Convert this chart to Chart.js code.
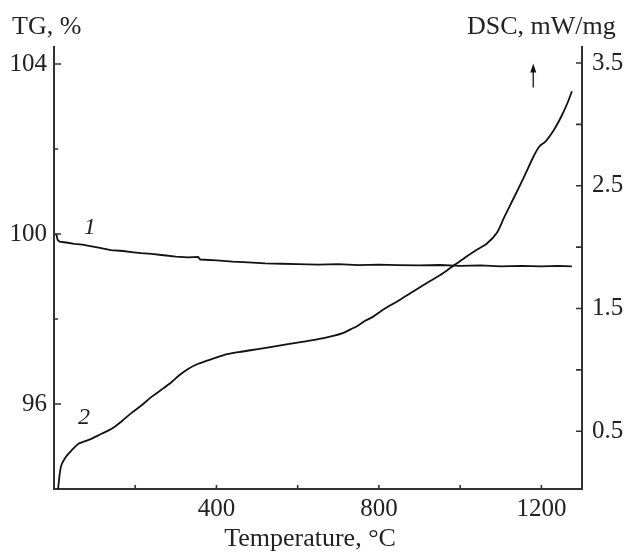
<!DOCTYPE html>
<html lang="en">
<head>
  <meta charset="UTF-8">
  <title>TG / DSC</title>
  <script src="https://cdn.jsdelivr.net/npm/chart.js"></script>
  <style>
    body {
      margin: 0;
      background: #fff;
    }
    canvas {
      display: block;
    }
  </style>
</head>
<body>
  <canvas id="tgChart" width="626" height="553"></canvas>

  <script>
    // curve 1: TG (left axis)
    const tgTemp = [3, 6, 9, 14, 30, 50, 70, 86, 110, 140, 170, 196, 215, 240, 270, 300, 330, 355, 360, 400, 440, 478, 520, 560, 600, 650, 700, 750, 800, 846, 900, 950, 1000, 1050, 1100, 1150, 1200, 1240, 1275];
    const tgValue = [100.0, 99.98, 99.86, 99.82, 99.80, 99.77, 99.75, 99.72, 99.68, 99.62, 99.60, 99.57, 99.55, 99.53, 99.50, 99.47, 99.45, 99.46, 99.40, 99.38, 99.35, 99.33, 99.31, 99.30, 99.29, 99.28, 99.29, 99.27, 99.28, 99.27, 99.26, 99.27, 99.25, 99.26, 99.24, 99.25, 99.24, 99.25, 99.24];

    // curve 2: DSC (right axis)
    const dscTemp = [10, 17, 29, 45, 61, 77, 93, 117, 142, 166, 191, 215, 240, 265, 289, 310, 331, 355, 390, 429, 465, 502, 540, 576, 615, 650, 690, 711, 730, 748, 766, 784, 815, 846, 880, 919, 950, 980, 1010, 1042, 1066, 1091, 1108, 1132, 1157, 1181, 1195, 1210, 1230, 1250, 1265, 1275];
    const dscValue = [0.03, 0.21, 0.29, 0.35, 0.40, 0.42, 0.44, 0.48, 0.52, 0.58, 0.65, 0.71, 0.78, 0.84, 0.90, 0.96, 1.01, 1.05, 1.09, 1.13, 1.15, 1.17, 1.19, 1.21, 1.23, 1.25, 1.28, 1.30, 1.33, 1.36, 1.40, 1.43, 1.50, 1.56, 1.63, 1.71, 1.77, 1.84, 1.91, 1.98, 2.03, 2.12, 2.24, 2.40, 2.57, 2.74, 2.82, 2.86, 2.95, 3.07, 3.18, 3.27];

    // ticks
    const xTicks = [200, 400, 600, 800, 1000, 1200];
    const xLabels = [400, 800, 1200];
    const tgTicks = [96, 98, 100, 102, 104];
    const tgLabels = [96, 100, 104];
    const dscTicks = [0.5, 1.0, 1.5, 2.0, 2.5, 3.0, 3.5];
    const dscLabels = [0.5, 1.5, 2.5, 3.5];

    const axisColor = '#333';
    const textColor = '#222';
    const serif = '"Liberation Serif", "DejaVu Serif", serif';

    const toPoints = (xs, ys) => xs.map((x, i) => ({ x: x, y: ys[i] }));

    // inward tick marks, curve numbers, arrow, axis titles
    const decorations = {
      id: 'decorations',
      afterDraw(chart) {
        const c = chart.ctx;
        const a = chart.chartArea;
        const x = chart.scales.x;
        const yL = chart.scales.yTG;
        const yR = chart.scales.yDSC;

        c.save();
        c.strokeStyle = axisColor;
        c.lineWidth = 1.6;
        c.beginPath();
        xTicks.forEach(v => {
          const px = x.getPixelForValue(v);
          c.moveTo(px, a.bottom);
          c.lineTo(px, a.bottom - 4);
        });
        tgTicks.forEach(v => {
          const py = yL.getPixelForValue(v);
          c.moveTo(a.left, py);
          c.lineTo(a.left + (tgLabels.includes(v) ? 7 : 4), py);
        });
        dscTicks.forEach(v => {
          const py = yR.getPixelForValue(v);
          c.moveTo(a.right, py);
          c.lineTo(a.right - 6, py);
        });
        c.stroke();

        // arrow next to DSC axis
        const ax = x.getPixelForValue(1180);
        const aTop = yR.getPixelForValue(3.48);
        const aBot = yR.getPixelForValue(3.3);
        c.lineWidth = 1.5;
        c.beginPath();
        c.moveTo(ax, aBot);
        c.lineTo(ax, aTop + 4);
        c.stroke();
        c.fillStyle = '#111';
        c.beginPath();
        c.moveTo(ax, aTop - 2);
        c.lineTo(ax - 3, aTop + 7);
        c.lineTo(ax + 3, aTop + 7);
        c.closePath();
        c.fill();

        // curve numbers
        c.fillStyle = textColor;
        c.font = 'italic 24px ' + serif;
        c.textAlign = 'center';
        c.textBaseline = 'middle';
        c.fillText('1', x.getPixelForValue(88), yL.getPixelForValue(100.16));
        c.fillText('2', x.getPixelForValue(74), yR.getPixelForValue(0.61));

        // axis titles
        c.font = '26px ' + serif;
        c.fillText('Temperature, °C', 310, 539);
        c.textAlign = 'left';
        c.fillText('TG, %', 12, 27);
        c.fillText('DSC, mW/mg', 467, 27);
        c.restore();
      }
    };

    const ctx = document.getElementById('tgChart').getContext('2d');
    const chart = new Chart(ctx, {
      type: 'line',
      data: {
        datasets: [
          {
            label: 'TG',
            data: toPoints(tgTemp, tgValue),
            yAxisID: 'yTG',
            borderColor: '#111',
            borderWidth: 1.8,
            pointRadius: 0,
            tension: 0
          },
          {
            label: 'DSC',
            data: toPoints(dscTemp, dscValue),
            yAxisID: 'yDSC',
            borderColor: '#111',
            borderWidth: 1.8,
            pointRadius: 0,
            tension: 0.3
          }
        ]
      },
      options: {
        responsive: false,
        animation: false,
        layout: { padding: { top: 47, left: 0, right: 0, bottom: 0 } },
        plugins: {
          legend: { display: false },
          tooltip: { enabled: false }
        },
        scales: {
          x: {
            type: 'linear',
            min: 0,
            max: 1300,
            grid: { display: false, drawTicks: false },
            border: { color: axisColor, width: 2 },
            afterBuildTicks: s => { s.ticks = xTicks.map(v => ({ value: v })); },
            afterFit: s => { s.height = 64; },
            ticks: {
              autoSkip: false,
              maxRotation: 0,
              padding: 5,
              color: textColor,
              font: { family: serif, size: 25 },
              callback: v => xLabels.includes(v) ? String(v) : ''
            }
          },
          yTG: {
            type: 'linear',
            position: 'left',
            min: 94,
            max: 104.4,
            grid: { display: false, drawTicks: false },
            border: { color: axisColor, width: 2 },
            afterBuildTicks: s => { s.ticks = tgTicks.map(v => ({ value: v })); },
            afterFit: s => { s.width = 54; },
            ticks: {
              autoSkip: false,
              padding: 7,
              color: textColor,
              font: { family: serif, size: 25 },
              callback: v => tgLabels.includes(v) ? String(v) : ''
            }
          },
          yDSC: {
            type: 'linear',
            position: 'right',
            min: 0.03,
            max: 3.63,
            grid: { display: false, drawTicks: false },
            border: { color: axisColor, width: 2 },
            afterBuildTicks: s => { s.ticks = dscTicks.map(v => ({ value: v })); },
            afterFit: s => { s.width = 44; },
            ticks: {
              autoSkip: false,
              padding: 10,
              color: textColor,
              font: { family: serif, size: 25 },
              callback: v => dscLabels.includes(v) ? v.toFixed(1) : ''
            }
          }
        }
      },
      plugins: [decorations]
    });
  </script>
</body>
</html>
